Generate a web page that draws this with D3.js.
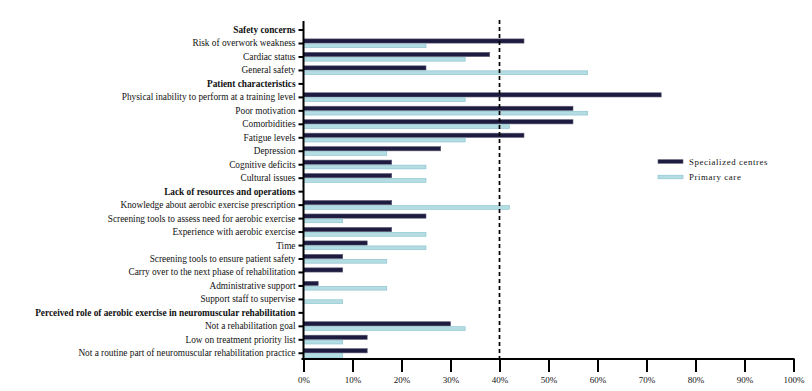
<!DOCTYPE html>
<html>
<head>
<meta charset="utf-8">
<script src="https://cdn.jsdelivr.net/npm/d3@7"></script>
<style>
  body { margin: 0; background: #fff; }
  svg text { font-family: "Liberation Serif", "DejaVu Serif", serif; }
</style>
</head>
<body>
<svg id="chart" width="812" height="391"></svg>
<script>
// rows top to bottom; headers have no bars
var categories = [
  'Safety concerns',
  'Risk of overwork weakness',
  'Cardiac status',
  'General safety',
  'Patient characteristics',
  'Physical inability to perform at a training level',
  'Poor motivation',
  'Comorbidities',
  'Fatigue levels',
  'Depression',
  'Cognitive deficits',
  'Cultural issues',
  'Lack of resources and operations',
  'Knowledge about aerobic exercise prescription',
  'Screening tools to assess need for aerobic exercise',
  'Experience with aerobic exercise',
  'Time',
  'Screening tools to ensure patient safety',
  'Carry over to the next phase of rehabilitation',
  'Administrative support',
  'Support staff to supervise',
  'Perceived role of aerobic exercise in neuromuscular rehabilitation',
  'Not a rehabilitation goal',
  'Low on treatment priority list',
  'Not a routine part of neuromuscular rehabilitation practice'
];
var headers = ['Safety concerns', 'Patient characteristics',
  'Lack of resources and operations',
  'Perceived role of aerobic exercise in neuromuscular rehabilitation'];

// percentages, null for header rows
var specialized = [null, 45, 38, 25, null, 73, 55, 55, 45, 28, 18, 18,
  null, 18, 25, 18, 13, 8, 8, 3, 0, null, 30, 13, 13];
var primary = [null, 25, 33, 58, null, 33, 58, 42, 33, 17, 25, 25,
  null, 42, 8, 25, 25, 17, 0, 17, 8, null, 33, 8, 8];

var xTicks = [0, 10, 20, 30, 40, 50, 60, 70, 80, 90, 100];
var refLine = 40;
var seriesNames = ['Specialized centres', 'Primary care'];

var darkFill = '#1d1b40', darkStroke = '#5c5a72';
var lightFill = '#b4dce3', lightStroke = '#86c1cc';

var svg = d3.select('#chart');
var x = d3.scaleLinear().domain([0, 100]).range([303.5, 793.5]);
var y = d3.scaleBand().domain(categories).range([23.3, 360]).padding(0);
var axisY = 359;

// bars
var rows = categories.map(function(c, i) {
  return { name: c, s: specialized[i], p: primary[i] };
});
var g = svg.append('g');
g.selectAll('.dark').data(rows.filter(function(d) { return d.s !== null && d.s > 0; }))
  .enter().append('rect')
  .attr('class', 'dark')
  .attr('x', x(0))
  .attr('y', function(d) { return y(d.name) + y.bandwidth() / 2 - 4.6; })
  .attr('width', function(d) { return x(d.s) - x(0); })
  .attr('height', 4.2)
  .style('fill', darkFill).style('stroke', darkStroke).style('stroke-width', 0.6);
g.selectAll('.light').data(rows.filter(function(d) { return d.p !== null && d.p > 0; }))
  .enter().append('rect')
  .attr('class', 'light')
  .attr('x', x(0))
  .attr('y', function(d) { return y(d.name) + y.bandwidth() / 2 + 0.4; })
  .attr('width', function(d) { return x(d.p) - x(0); })
  .attr('height', 3.8)
  .style('fill', lightFill).style('stroke', lightStroke).style('stroke-width', 0.6);

// reference line
svg.append('line')
  .attr('x1', x(refLine)).attr('x2', x(refLine))
  .attr('y1', 20).attr('y2', axisY)
  .style('stroke', '#000').style('stroke-width', 1.7)
  .style('stroke-dasharray', '4,3');

// y axis
var yAxis = d3.axisLeft(y).tickSize(5).tickPadding(3);
var ya = svg.append('g').attr('transform', 'translate(' + x(0) + ',0)').call(yAxis);
ya.select('.domain').remove();
ya.selectAll('.tick line').style('stroke', '#000').style('stroke-width', 2);
ya.selectAll('.tick text')
  .style('font-size', '9.3px').style('fill', '#111')
  .style('font-weight', function(d) { return headers.indexOf(d) >= 0 ? 'bold' : 'normal'; });
svg.append('line')
  .attr('x1', x(0)).attr('x2', x(0)).attr('y1', 21).attr('y2', axisY + 1)
  .style('stroke', '#000').style('stroke-width', 2);

// x axis
var xAxis = d3.axisBottom(x).tickValues(xTicks).tickSize(13).tickPadding(5)
  .tickFormat(function(d) { return d + '%'; });
var xa = svg.append('g').attr('transform', 'translate(0,' + axisY + ')').call(xAxis);
xa.select('.domain').remove();
xa.selectAll('.tick line').style('stroke', '#000').style('stroke-width', 2);
xa.selectAll('.tick text').style('font-size', '9px').style('fill', '#111');
svg.append('line')
  .attr('x1', x(0) - 2).attr('x2', x(100) + 1).attr('y1', axisY).attr('y2', axisY)
  .style('stroke', '#000').style('stroke-width', 2);

// legend
var legend = svg.append('g').attr('transform', 'translate(658,161.5)');
var lg = legend.selectAll('g').data(seriesNames).enter().append('g')
  .attr('transform', function(d, i) { return 'translate(0,' + (i * 15.5) + ')'; });
lg.append('rect')
  .attr('x', 0).attr('y', -1.8).attr('width', 25).attr('height', 3.6)
  .style('fill', function(d, i) { return i === 0 ? darkFill : lightFill; })
  .style('stroke', function(d, i) { return i === 0 ? darkStroke : lightStroke; })
  .style('stroke-width', 0.6);
lg.append('text')
  .attr('x', 31).attr('y', 3)
  .style('font-size', '8.8px').style('letter-spacing', '0.6px').style('fill', '#111')
  .text(function(d) { return d; });
</script>
</body>
</html>
